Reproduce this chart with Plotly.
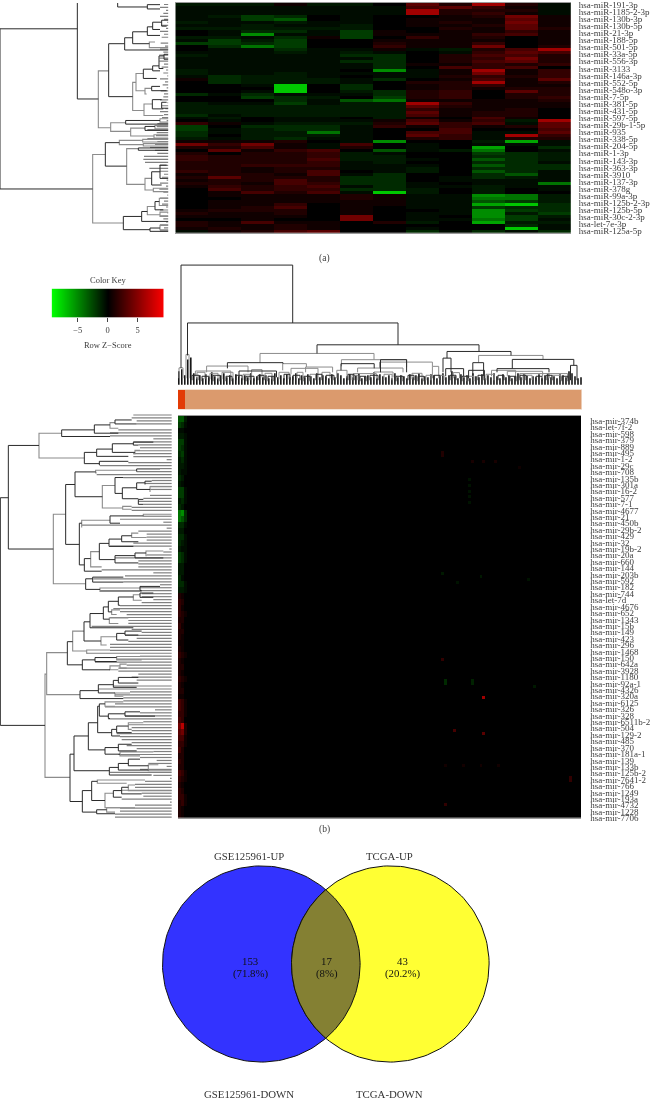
import numpy as np
import plotly.graph_objects as go

W, H = 652, 1104
FONT = "Liberation Serif"
TXT = "#3c3c3c"
DARK = "#2a2a2a"
GRAY = "#8c8c8c"

# ---------- panel (a) ----------
labels_a = ["hsa-miR-191-3p","hsa-miR-1185-2-3p","hsa-miR-130b-3p","hsa-miR-130b-5p","hsa-miR-21-3p","hsa-miR-188-5p",
"hsa-miR-501-5p","hsa-miR-33a-5p","hsa-miR-556-3p","hsa-miR-3133","hsa-miR-146a-3p","hsa-miR-552-5p","hsa-miR-548o-3p",
"hsa-miR-7-5p","hsa-miR-381-5p","hsa-miR-431-5p","hsa-miR-597-5p","hsa-miR-29b-1-5p","hsa-miR-935","hsa-miR-338-5p",
"hsa-miR-204-5p","hsa-miR-1-3p","hsa-miR-143-3p","hsa-miR-363-3p","hsa-miR-3910","hsa-miR-137-3p","hsa-miR-378g",
"hsa-miR-99a-3p","hsa-miR-125b-2-3p","hsa-miR-125b-5p","hsa-miR-30c-2-3p","hsa-let-7e-3p","hsa-miR-125a-5p"]

expr_a = [
[-2,-2,-2,1,-2,-2, 0,5,2,7,2,-1],[-1,-1,-1,-1,-1,-1, -1,4,5,3,1,-1],[-1,-1,-1,-1,-1,-1, -1,7,2,2,2,-1],
[-1,-1,-1,-1,-1,-1, -1,7,2,3,1,-1],[-1,-2,-4,-3,0,-1, 0,0,1,2,6,1],[-1,-1,-4,-5,0,-1, 0,1,1,1,5,1],
[-2,-1,-1,-2,-1,-1, 0,1,2,1,6,1],[-1,-1,-2,-1,-1,-2, 0,1,1,2,5,1],[-2,-2,-2,-2,-2,-2, 0,0,2,1,5,2],
[0,-1,-3,-3,-1,-4, 1,0,1,1,3,1],[0,-1,-7,-1,-1,-4, 1,1,1,3,4,1],[-2,-2,-1,-3,1,-4, 0,3,1,2,0,1],
[-1,-4,-2,-4,0,0, 1,1,1,1,0,1],[-4,-4,-3,-4,0,0, 2,1,1,3,0,1],[0,-3,-6,-4,0,0, 3,1,1,6,0,2],
[0,-1,-1,-3,-1,-1, 1,-1,-2,2,4,7],[-1,-1,-1,-2,-1,-2, -1,0,-1,3,5,4],[-2,-1,-1,-1,-1,-3, -3,0,2,4,4,2],
[-1,-1,-1,-1,-1,-1, -3,0,2,3,6,2],[-1,-1,-1,-1,-1,-3, -3,0,2,4,5,2],[-1,-1,-1,-1,-1,-1, -3,1,1,3,2,3],
[-1,-1,-1,-1,-1,-1, -3,0,4,3,4,0],[-2,-1,-1,-1,-1,0, -7,-1,1,7,1,3],[-2,-1,-1,-2,-1,-1, -1,-1,1,6,1,3],
[-1,-3,-2,-2,-1,0, -1,-1,2,3,2,3],[1,-3,-2,-2,-2,-1, -3,0,1,4,1,5],[0,-3,-2,-2,-2,-1, 0,2,2,7,1,2],
[0,0,-1,-9,0,-3, 0,1,2,3,1,1],[0,0,0,-9,0,-3, 0,1,2,1,2,2],[0,0,-1,-9,0,-2, -3,2,3,0,5,2],
[-3,-1,-3,-1,-1,-1, -3,2,3,0,2,2],[0,0,-4,-3,-2,0, -4,2,3,0,2,3],[0,0,0,-3,-1,-5, -6,1,1,1,1,2],
[-2,-1,-1,-4,-1,-2, -2,7,3,1,1,1],[-2,-2,-2,-2,-2,-2, -2,5,2,1,1,1],[-2,-2,-2,-2,-2,-2, -2,3,1,1,2,0],
[-2,-2,-2,-2,-2,-2, -2,5,1,2,2,0],[-3,-1,-2,-2,-2,-2, -2,4,1,2,2,0],[-1,-2,0,-1,-1,0, -2,1,0,4,1,0],
[0,-1,0,-1,-1,-1, 1,4,1,3,-2,7],
[3,1,-1,-2,-2,-2, 2,5,3,4,-1,5],[-4,0,-3,-3,-3,-1, 3,1,3,1,2,5],[-4,-1,-2,-3,-3,-1, 0,0,4,0,0,4],
[-3,-1,-2,-2,-6,-1, 0,4,4,-1,-1,5],[-3,0,-2,-2,-2,-1, 0,5,3,-1,7,3],[-2,-1,-2,-3,-1,-1, 0,2,3,-1,2,2],
[1,1,1,2,0,-1, -7,0,0,-2,-8,-1],[6,3,6,1,-1,4, 0,-1,0,-1,-1,-1],[2,2,4,1,-1,2, 0,-1,0,-8,0,-3],
[0,5,1,3,4,0, -5,-1,-2,-6,0,-1],[2,0,2,2,3,-2, -1,0,0,-4,-3,-2],[3,2,2,2,3,-2, -2,0,0,-3,-3,-2],
[3,2,2,2,4,-2, -2,-1,0,-5,-3,-2],[2,2,2,2,3,-1, -2,0,0,-3,-3,-1],[2,2,3,3,3,-1, -1,-1,0,-5,-3,-3],
[2,2,1,2,2,-1, -1,-2,0,-3,-3,-3],[3,2,1,2,4,0, -1,-2,0,-5,-3,-1],[1,2,2,1,4,-1, -3,0,0,-3,-5,-1],
[2,5,2,2,2,-3, -3,0,-1,-3,-2,-1],[1,2,2,4,2,-3, -3,0,-1,-1,-1,-1],[2,2,1,4,3,-3, -3,-1,0,-1,-1,-6],
[1,3,2,3,4,-1, -3,-1,-1,-2,-1,-1],[0,4,2,3,3,-3, -3,-2,0,-2,0,-1],[0,1,4,2,4,-1, -9,-2,0,-2,0,0],
[0,1,1,1,1,2, 1,-1,-1,-7,-6,-2],[0,0,1,1,1,2, 1,-1,-1,-6,-6,-2],[0,1,1,1,1,1, 1,-1,-1,-5,-4,-2],
[0,1,1,3,0,1, 1,-1,-1,-8,-9,-3],[0,1,2,4,0,1, 0,-1,-1,-4,-3,-3],[1,2,2,2,0,1, 0,0,-1,-7,-4,-3],
[2,1,1,2,0,1, 0,-1,-1,-7,-2,-4],[1,1,1,1,0,6, 0,-1,0,-7,-4,-2],[0,0,1,0,0,6, 0,-1,-1,-6,-4,-1],
[2,1,4,1,1,0, 2,-2,0,-8,-2,-2],[2,1,1,2,1,0, 0,0,0,0,-3,-1],[1,2,1,2,1,0, 0,-1,0,0,-9,-1],
[-1,1,2,4,5,0, 0,-3,-1,-3,-1,-3],
]

# bracket: height, upper row, upper child height, lower row, lower child height
tree_a_dark = [(-180,78,52,562,98),(52,-5,173,290,115),(173,-5,300,12,262),(262,5,300,18,300),
(194,105,218,142,325),(218,87,262,123,268),(262,72,278,98,300),(278,58,305,80,300),(305,52,325,70,320),
(250,200,278,228,290),(278,190,297,205,300),(297,160,312,198,310),(312,155,325,170,325),(275,252,300,265,320),
(277,292,305,320,310),(305,300,320,318,325),(197,355,300,366,325),(255,373,285,385,325),(136,422,178,493,200),
(235,438,325,445,325),(275,510,300,550,305),(300,490,320,530,325),(190,645,245,685,270),(245,630,262,660,325),
(285,600,298,625,310),(270,680,300,690,325),(146,123,194,283,218)]
tree_a_gray = [(115,205,146,377,152),(218,240,228,325,252),(228,213,250,265,255),(255,258,275,275,260),(252,305,277,340,310),
(300,350,325,360,325),(152,362,197,388,212),(212,378,255,402,282),(285,370,325,380,325),(282,398,325,408,325),(98,458,136,665,190),
(178,415,248,428,250),(248,412,325,420,325),(250,425,325,432,325),(200,440,235,548,255),(255,530,275,565,280),(280,560,325,570,325),
(262,615,285,640,300),(298,590,325,612,325),(300,632,325,645,325),(268,118,285,135,325),(300,672,325,685,325)]
leaves_a = [312,300,318,310,300,312,322,305,318,300,312,305,325,302,315,300,310,298,298,298,
312,305,318,310,322,300,315,308,320,302,312,310,300,322,305,316,300,312,306,320,
292,290,262,290,288,262,292,285,270,285,292,252,250,255,298,268,300,312,306,320,
300,318,298,310,322,300,312,306,318,300,322,300,310,318,300,312,300]

# ---------- panel (b) ----------
labels_b = ["hsa-mir-374b","hsa-let-7f-2","hsa-mir-598","hsa-mir-379","hsa-mir-889","hsa-mir-495","hsa-mir-1-2","hsa-mir-29c",
"hsa-mir-708","hsa-mir-135b","hsa-mir-301a","hsa-mir-16-2","hsa-mir-577","hsa-mir-7-1","hsa-mir-4677","hsa-mir-21","hsa-mir-450b",
"hsa-mir-29b-2","hsa-mir-429","hsa-mir-32","hsa-mir-19b-2","hsa-mir-20a","hsa-mir-660","hsa-mir-144","hsa-mir-203b","hsa-mir-592",
"hsa-mir-182","hsa-mir-744","hsa-let-7d","hsa-mir-4676","hsa-mir-652","hsa-mir-1343","hsa-mir-15b","hsa-mir-149","hsa-mir-423",
"hsa-mir-296","hsa-mir-1468","hsa-mir-150","hsa-mir-642a","hsa-mir-3928","hsa-mir-1180","hsa-mir-92a-1","hsa-mir-4326","hsa-mir-320a",
"hsa-mir-6125","hsa-mir-326","hsa-mir-328","hsa-mir-6511b-2","hsa-mir-504","hsa-mir-129-2","hsa-mir-485","hsa-mir-370","hsa-mir-181a-1",
"hsa-mir-139","hsa-mir-133b","hsa-mir-125b-2","hsa-mir-7641-2","hsa-mir-766","hsa-mir-1249","hsa-mir-193a","hsa-mir-4732","hsa-mir-1228","hsa-mir-7706"]

band_1 = [-5,-4,-1,-2,-4,-4,-3,-2,-2,-2,-3,-2,-4,-4,-2,-3,-6,-6,-3,-2,-3,-3,-2,-4,-4,-2,-2,-3,-3,-2,
2,3,3,3,2,3,2,2,1,2,3,2,2,2,3,2,2,1,4,4,3,4,6,5,4,3,4,2,3,2,4,3,2,3,3,2,2,2]
band_2 = [-5,-3,-1,-2,-4,-3,-4,-3,-2,-1,-2,-1,-4,-4,-3,-2,-7,-5,-3,-2,-3,-2,-1,-3,-3,-2,-2,-1,-3,-2,
1,2,1,2,2,1,2,1,1,1,2,1,2,1,2,1,2,1,3,3,3,3,8,6,4,3,2,2,2,2,3,2,1,2,3,3,1,1]
band_3 = [-2,-1,0,-1,-1,-1,-1,-1,-1,-1,0,0,-1,-1,-1,0,-3,-3,-1,0,-1,-1,-1,-1,-1,0,0,0,-1,-1,
0,0,0,1,0,0,0,0,0,0,1,0,0,0,1,0,0,0,1,1,1,0,2,2,1,1,0,0,0,0,1,1,0,0,1,1,0,0]
hot_rows = [12,13,15,15,15,21,23,25,27,29,17,53,54,56,55,95,106,107,82,89,90,90,89,91,122,123,131,118,118,118,118]
hot_cols = [88,88,98,102,106,97,97,97,97,97,114,88,101,93,117,102,92,102,88,89,89,98,98,119,131,131,89,89,95,101,107]
hot_vals = [2,2,1.5,1.5,1.5,-1.5,-1.5,-1.5,-1.5,-1.5,1,-2,-2,-1.5,-1.5,7,4,5,3,-3,-3,-2.5,-2.5,-2,3,3,3,1.2,1.2,1.2,1.2]

tree_b_dark = [(1,265,25,953,135),(25,107,117,420,160),(185,60,283,80,330),(283,45,330,70,355),(345,30,395,42,410),
(253,128,290,162,298),(290,118,337,140,385),(337,102,400,128,405),(400,97,460,106,415),(298,155,385,166,300),(197,225,225,406,238),
(225,187,287,262,307),(410,178,480,186,410),(345,204,370,252,367),(367,235,410,268,415),(410,220,435,240,450),(435,215,455,225,435),
(415,270,430,285,430),(238,342,245,468,253),(330,320,430,342,360),(253,449,272,487,305),(298,403,327,452,345),(327,390,365,412,400),
(365,380,395,398,415),(345,440,405,462,415),(405,432,438,447,490),(257,510,278,542,300),(278,505,370,520,370),(420,533,480,545,425),
(202,700,218,770,247),(252,640,270,698,303),(270,615,310,658,400),(310,595,325,632,328),(325,578,355,610,335),(355,565,400,590,360),
(420,553,460,566,460),(350,675,375,695,385),(375,668,425,680,415),(247,755,285,785,330),(285,748,350,760,350),(240,848,295,872,370),
(295,830,340,855,345),(340,817,355,838,410),(355,808,415,825,415),(210,1040,222,1183,247),(222,985,265,1090,328),(265,945,293,1027,315),
(293,895,298,975,335),(298,888,315,925,325),(325,918,375,932,330),(375,912,420,925,465),(335,965,350,985,360),(350,955,385,975,395),
(315,1020,355,1040,360),(355,1010,395,1030,410),(328,1080,355,1103,455),(355,1068,385,1088,445),(385,1055,420,1075,445),(247,1150,275,1215,290),
(275,1122,292,1180,315),(340,1150,365,1170,365),(365,1140,385,1160,425),(290,1208,320,1220,345)]
tree_b_gray = [(117,70,185,145,253),(330,38,345,55,355),(405,122,420,132,400),(160,315,197,525,257),(287,182,410,190,290),(307,228,345,296,368),
(450,232,515,248,450),(368,291,395,300,395),(245,333,330,355,245),(430,315,515,322,430),(272,428,298,474,305),(395,372,415,385,440),(438,426,490,440,440),
(300,538,420,548,425),(135,798,140,1110,210),(140,733,202,860,240),(218,668,252,728,260),(400,558,420,575,425),(335,604,360,618,350),(328,628,385,645,355),
(303,685,350,710,320),(260,725,330,735,262),(350,745,420,755,425),(330,773,360,785,355),(360,768,380,780,380),(345,855,390,865,370),(315,882,370,895,345),
(385,945,430,965,395),(360,1033,460,1045,420),(445,1072,475,1090,515),(292,1118,435,1128,380),(315,1158,340,1202,405),(385,1133,405,1150,515),(320,1202,360,1215,345)]
leaves_b = [400,395,410,410,515,355,330,330,460,400,415,420,405,400,400,500,385,300,480,410,290,370,455,435,450,450,515,450,430,415,430,395,395,515,430,360,490,
245,500,415,440,440,440,400,330,508,490,440,345,415,415,415,305,460,375,280,370,480,420,300,425,425,460,425,360,340,360,380,330,385,385,275,395,425,375,410,385,
330,330,330,260,420,350,285,380,355,355,415,395,410,515,340,295,390,345,370,370,345,315,465,420,375,325,430,385,395,395,350,360,365,395,380,410,460,355,420,470,
445,500,420,330,460,510,435,405,405,365,425,430,365,510,405,360,360,345,345]

# column dendrogram: left position, right position, merge level, left child level, right child level
col_dark = [(187.5,398,322.3,355,344.3),(317,479,344.3,353,351),(447,511,351,357.7,355),(443,451,357.7,372,372),
(512.3,573.8,359,368.3,365),(472.8,483.6,362.3,375,375),(181,292.7,264,367.7,322.3),(227.4,283,362.3,368,363.3),(239,276.5,370.7,377,377),
(341,374.2,363.3,370,368),(380.5,406.6,359.3,372,372),(468.6,484.4,370,378,378),(497,549,368.3,372,372),(445.7,463.6,368.3,376,376),(570.5,577,365,380,380),
(192,199,375,380,380),(202,209,376,381,381),(213,220,375,381,381),(226,232,376,381,381),(236,242,375,380,380),(246,254,376,381,381),(258,264,375,380,380),(268,274,376,381,381),
(284,290,374,380,380),(293,300,375,380,380),(304,310,376,381,381),(316,322,374,380,380),(326,334,375,380,380),(348,354,374,380,380),(360,366,376,381,381),(370,378,375,380,380),
(396,403,376,381,381),(408,414,375,380,380),(418,424,376,381,381),(434,440,375,380,380),(450,456,375,380,380),(462,468,376,381,381),(478,484,375,380,380),(498,504,375,380,380),
(510,516,376,381,381),(520,526,375,380,380),(536,542,376,381,381),(546,552,375,380,380),(562,568,376,381,381)]
col_gray = [(260,374,353,362.3,359.3),(478.6,543,355,362.3,359),(195.4,230.8,370.7,376,376),(206.6,248,365.7,372,372),(282.7,306.4,363.3,370,366.7),(305.6,332.6,366.7,372,372),
(291,318,368,374,374),(251.6,262,369.3,377,377),(336.8,347,370,378,378),(341.4,406.6,359.3,366,367),(357.6,403,367.7,372,372),(374,393,371.7,377,377),(353.4,376.3,373.3,378,378),
(379.6,432.4,361.7,368,366),(432.4,438.7,366,378,378),(453.2,459.5,372.3,378,378),(491.5,515.6,370,376,376),(507.3,542.6,371,376,376),(519.8,548.9,373.3,378,378),(548.9,567.6,373.3,378,378),
(179,183,367.5,378,378),(186,189,354,378,378),(197,205,372,379,379),(210,218,373,379,379),(222,233,372,379,379),(243,250,374,380,380),(265,272,373,379,379),(279,289,372,379,379),
(297,303,372,378,378),(310,318,374,380,380),(322,330,372,378,378),(352,358,375,380,380),(384,392,374,380,380),(412,422,373,379,379),(426,431,375,380,380),(440,444,375,380,380),
(467,474,376,381,381),(486,494,374,380,380),(523,532,375,380,380),(552,561,375,380,380)]
col_leaf_tops = [372,370,376,360,358,374,378,376,379,375,378,373,377,379,376,374,378,376,379,375,377,379,376,378,374,379,377,375,378,376,
379,377,374,378,376,379,375,378,377,374,379,376,378,375,377,379,374,378,376,377,379,375,378,374,376,379,377,375,378,376,
374,379,377,376,378,373,379,375,377,378,376,379,374,378,376,377,379,375,378,376,374,379,377,378,375,376,379,377,374,378,
376,372,377,379,375,378,376,379,374,377,378,375,379,376,378,374,377,379,375,378,376,379,377,374,378,375,376,379,377,378,
375,379,376,374,378,377,379,375,376,378,372,374,377,379,378]

legend_ticks = [-5, 0, 5]
key_values = [-9.35,-8,-6.5,-5,-3.5,-2,-0.5,0,0.5,2,3.5,5,6.5,8,9.35]
annotation_colors = ["#E33B05", "#DB9A6D"]
annotation_edges = [178, 185, 581.5]

# display levels: expression level -> channel brightness
level_z = [-11,-9,-8,-7,-6,-5,-4,-3,-2,-1,0,1,2,3,4,5,6,7,9,11]
level_g = [255,200,165,140,115,85,60,42,25,12,0,0,0,0,0,0,0,0,0,0]
level_r = [0,0,0,0,0,0,0,0,0,0,0,16,32,50,70,90,112,160,210,255]

# ---------- panel (c) ----------
venn_x = [261.3, 390.3]
venn_y = [968, 968]
venn_r = [98.8, 98.8]
venn_fill = ["#3333FF", "#FFFF33"]
overlap_fill = "#848033"
venn_texts = [("GSE125961-UP",249,859),("TCGA-UP",389.7,859),("153",250,964.7),("(71.8%)",250,978),("17",326.7,964.7),("(8%)",326.7,978),
("43",402,964.7),("(20.2%)",402,978),("GSE125961-DOWN",249,1099),("TCGA-DOWN",389,1099)]

fig = go.Figure()
ax_n = [0]
frame = dict(visible=True, showticklabels=False, ticks="", showline=True, linecolor="#9a9a9a", linewidth=1, mirror=True)

def panel(x0, x1, y0, y1, xr, yr, xopts=None, yopts=None):
    ax_n[0] += 1
    n = ax_n[0]
    sfx = "" if n == 1 else str(n)
    xa = dict(domain=[x0 / W, x1 / W], range=xr, visible=False, anchor="y" + sfx, showgrid=False, zeroline=False, fixedrange=True)
    ya = dict(domain=[1 - y1 / H, 1 - y0 / H], range=yr, visible=False, anchor="x" + sfx, showgrid=False, zeroline=False, fixedrange=True)
    xa.update(xopts or {})
    ya.update(yopts or {})
    fig.layout["xaxis" + sfx] = xa
    fig.layout["yaxis" + sfx] = ya
    return "x" + sfx, "y" + sfx

def lines(xs, ys, color, width, ax):
    fig.add_trace(go.Scatter(x=xs, y=ys, mode="lines", line=dict(color=color, width=width), hoverinfo="skip", showlegend=False, xaxis=ax[0], yaxis=ax[1], cliponaxis=True))

def row_tree(brackets, color, ax, width=1):
    xs, ys = [], []
    for h, y0, h0, y1, h1 in brackets:
        xs += [h0, h, h, h1, None]
        ys += [y0, y0, y1, y1, None]
    lines(xs, ys, color, width, ax)

def row_leaves(starts, first, step, end, color, ax, width=1):
    xs, ys = [], []
    for i, s in enumerate(starts):
        yy = first + step * i
        xs += [s, end, None]
        ys += [yy, yy, None]
    lines(xs, ys, color, width, ax)

def col_tree(brackets, color, ax, width=1):
    xs, ys = [], []
    for x0, x1, top, b0, b1 in brackets:
        xs += [x0, x0, x1, x1, None]
        ys += [b0, top, top, b1, None]
    lines(xs, ys, color, width, ax)

HEAT_SCALE = [[(z + 11) / 22, f"rgb({r},{g},0)"] for z, r, g in zip(level_z, level_r, level_g)]

def heat(z, ax, x=None, y=None, zrange=(-11, 11), scale=None):
    fig.add_trace(go.Heatmap(z=z, x=x, y=y, xaxis=ax[0], yaxis=ax[1], zmin=zrange[0], zmax=zrange[1], showscale=False, hoverinfo="skip",
        colorscale=scale or HEAT_SCALE))

tick_font = dict(family=FONT, size=9, color=TXT)

# (a) heatmap
nra = len(expr_a)
ax = panel(175.3, 570.8, 0, 231.5, [-0.5, 11.5], [nra - 0.5, -0.5], xopts=frame,
    yopts=dict(visible=True, side="right", showline=False, ticks="", tickmode="array", ticklabeloverflow="allow",
        tickvals=list(np.linspace(0.05, nra - 1.05, len(labels_a))), ticktext=labels_a, tickfont=tick_font, ticklabelstandoff=7, ticklabelposition="outside"))
heat(expr_a, ax)

# (a) dendrogram
ax = panel(0, 168.5, 0, 232, [-180, 325.5], [696, 0])
row_leaves(leaves_a, 4.5, 9, 325, "#808080", ax, 1.2)
row_tree(tree_a_gray, GRAY, ax, 1.1)
row_tree(tree_a_dark, DARK, ax, 1.0)

# (b) heatmap
nrb, ncb = 136, 135
zb = [[0.0] * ncb for _ in range(nrb)]
for i in range(len(band_1)):
    for r in (2 * i, 2 * i + 1):
        zb[r][0], zb[r][1], zb[r][2] = band_1[i], band_2[i], band_3[i]
for r, c, v in zip(hot_rows, hot_cols, hot_vals):
    zb[r][c] = v
ax = panel(178, 581.3, 415.7, 821, [-0.5, ncb - 0.5], [nrb - 0.5, -0.5], xopts=frame,
    yopts=dict(visible=True, side="right", showline=False, ticks="", tickmode="array", ticklabeloverflow="allow",
        tickvals=list(np.linspace(1.2, nrb - 0.5, len(labels_b))), ticktext=labels_b, tickfont=tick_font, ticklabelstandoff=8, ticklabelposition="outside"))
heat(zb, ax)

# (b) row dendrogram
ax = panel(0, 172, 410, 830, [0, 516], [1260, 0])
row_leaves(leaves_b, 15, 9, 515, "#808080", ax, 1.2)
row_tree(tree_b_gray, GRAY, ax, 1.1)
row_tree(tree_b_dark, DARK, ax, 1.0)

# (b) column dendrogram
ax = panel(178, 582, 262, 385, [178, 582], [385, 262])
lx, ly = [], []
for i, top in enumerate(col_leaf_tops):
    xx = 178.8 + i * (581 - 178.8) / (len(col_leaf_tops) - 1)
    lx += [xx, xx, None]
    ly += [384.5, top - 1, None]
lines(lx, ly, "#161616", 1.6, ax)
col_tree(col_gray, GRAY, ax, 1.0)
col_tree(col_dark, DARK, ax, 1.0)

# (b) annotation strip
ax = panel(178, 581.5, 389.5, 409.3, [178, 581.5], [0, 1],
    xopts=dict(visible=True, showticklabels=False, ticks="", showline=True, linecolor="#f2e2d4", linewidth=1, mirror=True))
fig.add_trace(go.Heatmap(z=[[0, 1]], x=annotation_edges, y=[0, 1], xaxis=ax[0], yaxis=ax[1], zmin=0, zmax=1, showscale=False, hoverinfo="skip",
    colorscale=[[0, annotation_colors[0]], [0.5, annotation_colors[0]], [0.5, annotation_colors[1]], [1, annotation_colors[1]]]))

# color key
ax = panel(51.6, 163.8, 287.7, 316.7, [-9.35, 9.35], [0, 1],
    xopts=dict(visible=True, tickmode="array", tickvals=legend_ticks, ticktext=["\u22125", "0", "5"], ticks="outside", ticklen=4, tickwidth=1, tickcolor="#444",
        tickfont=dict(family=FONT, size=8.5, color=TXT), showline=False,
        title=dict(text="Row Z\u2212Score", font=dict(family=FONT, size=8.5, color=TXT), standoff=8)))
heat([key_values], ax, x=key_values, y=[0.5], zrange=(-9.35, 9.35), scale=[[0, "#00ff00"], [0.5, "#000000"], [1, "#ff0000"]])
fig.data[-1].update(zsmooth="best")
fig.add_annotation(text="Color Key", x=0, y=1 - 279 / H, xref=ax[0], yref="paper", yanchor="middle", showarrow=False, font=dict(family=FONT, size=8.5, color=TXT))

# venn
ax = panel(130, 530, 830, 1104, [130, 530], [1104, 830])
theta = [float(t) for t in np.linspace(0, 2 * np.pi, 181)]
for cx, cy, r, col in zip(venn_x, venn_y, venn_r, venn_fill):
    fig.add_trace(go.Scatter(x=[cx + r * np.cos(t) for t in theta], y=[cy + r * np.sin(t) for t in theta], mode="lines", fill="toself", fillcolor=col,
        line=dict(color="#111", width=1), hoverinfo="skip", showlegend=False, xaxis=ax[0], yaxis=ax[1]))
half = (venn_x[1] - venn_x[0]) / 2
phi = float(np.arccos(half / venn_r[0]))
angs = np.linspace(-phi, phi, 60)
lx = [venn_x[0] + venn_r[0] * np.cos(a) for a in angs] + [venn_x[1] - venn_r[1] * np.cos(a) for a in angs[::-1]]
ly = [venn_y[0] + venn_r[0] * np.sin(a) for a in angs] + [venn_y[1] + venn_r[1] * np.sin(a) for a in angs[::-1]]
lx.append(lx[0]); ly.append(ly[0])
fig.add_trace(go.Scatter(x=lx, y=ly, mode="lines", fill="toself", fillcolor=overlap_fill, line=dict(color="#111", width=1), hoverinfo="skip", showlegend=False, xaxis=ax[0], yaxis=ax[1]))
for i, (t, x, y) in enumerate(venn_texts):
    dark = 2 <= i <= 7
    fig.add_annotation(text=t, x=x, y=y, xref=ax[0], yref=ax[1], showarrow=False, font=dict(family=FONT, size=10.8, color="#111" if dark else "#333"))

for t, yy in (("(a)", 250), ("(b)", 840)):
    fig.add_annotation(text=t, x=324 / W, y=1 - yy / H, xref="paper", yref="paper", showarrow=False, font=dict(family=FONT, size=9.5, color=TXT))

fig.update_layout(width=W, height=H, autosize=False, margin=dict(l=0, r=0, t=0, b=0), paper_bgcolor="white", plot_bgcolor="rgba(0,0,0,0)", showlegend=False,
    font=dict(family=FONT))
fig.write_html("out.html", config=dict(displayModeBar=False),
    post_script="document.body.style.margin='0';document.querySelectorAll('.main-svg').forEach(function(s){s.style.willChange='transform';s.style.transform='translateZ(0)';});")
